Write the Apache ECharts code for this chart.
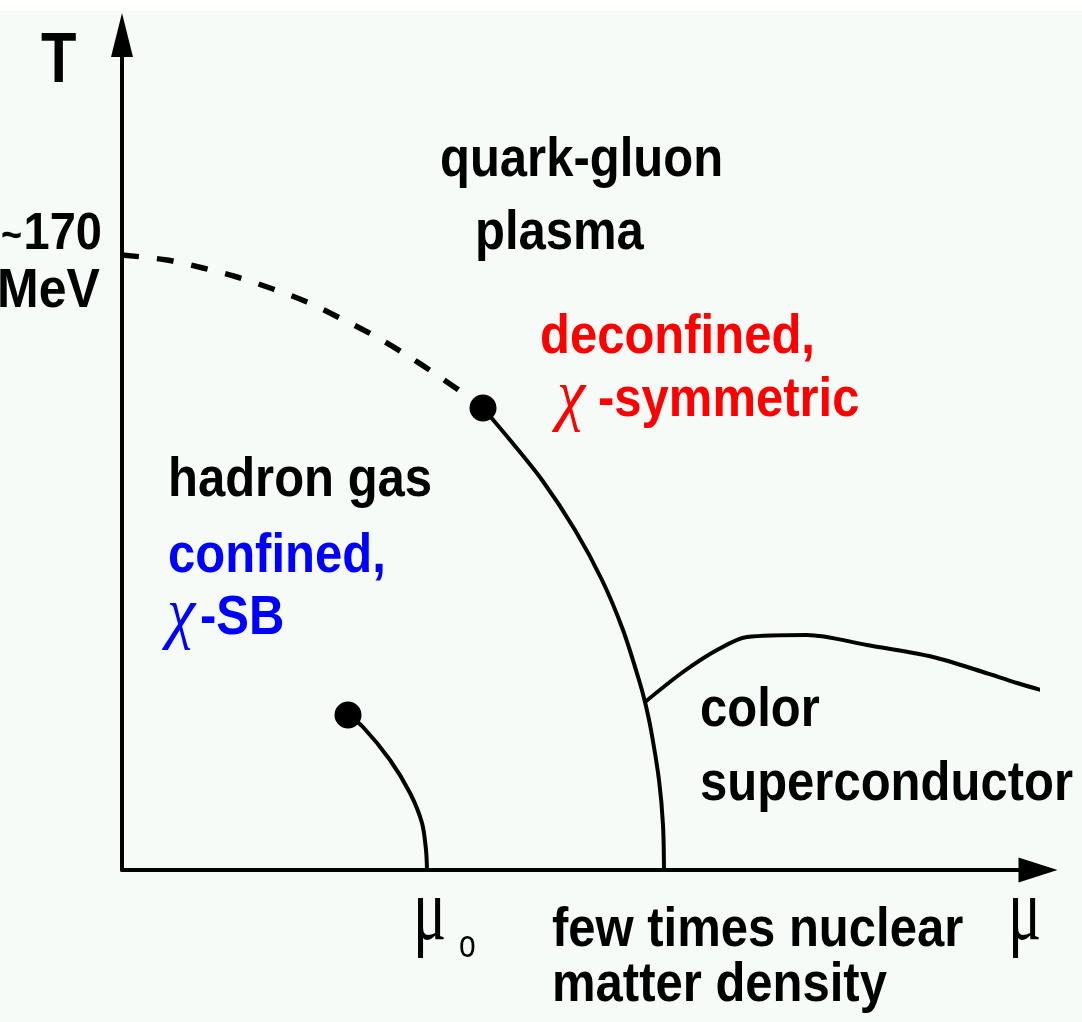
<!DOCTYPE html>
<html>
<head>
<meta charset="utf-8">
<script src="https://cdn.jsdelivr.net/npm/echarts@6/dist/echarts.min.js"></script>
<style>
  html, body { margin: 0; padding: 0; background: #f6fbf8; }
  #chart { width: 1082px; height: 1022px; }
</style>
</head>
<body>
<div id="chart"></div>
<script>
// schematic units (origin at the axes corner)
var crossover = [[0,615],[45,610],[81,602],[115,593],[151,581],[185,568],[218,552],[251,535],[283,516],[315,495],[345,474],[361,462]];
var hadronQgp = [[361,462],[388,430],[420,390],[453,340],[480,290],[501,240],[517,190],[523,168],[529,140],[537,90],[541,45],[542,0]];
var cscBoundary = [[523,168],[561,198],[595,220],[625,233],[685,235],[745,225],[811,213],[861,198],[895,187],[926,178]];
var liquidGas = [[226,155],[241,143],[268,110],[288,77],[300,47],[304,20],[305,0]];
var criticalPoints = [[361,462],[226,155]];
var xMax = 916, yMax = 835;

var SANS = '"Liberation Sans", Arial, Helvetica, sans-serif';
var SERIF = '"Liberation Serif", "Times New Roman", serif';

function label(x, y, text, o) {
  o = o || {};
  return {
    type: 'text', x: x, y: y, scaleY: o.sy || 1.15, z: 10,
    style: {
      text: text,
      fill: o.color || '#000',
      fontFamily: o.family || SANS,
      fontWeight: o.weight || 'bold',
      fontStyle: o.style || 'normal',
      fontSize: o.size || 49,
      align: o.align || 'left', textAlign: o.align || 'left',
      verticalAlign: 'middle', textVerticalAlign: 'middle'
    }
  };
}
var chi = { family: SERIF, weight: 'normal', style: 'italic', size: 64, sy: 1.1 };
var mu = { family: SERIF, weight: 'normal', size: 62, sy: 1.45 };

var chart = echarts.init(document.getElementById('chart'));
chart.setOption({
  backgroundColor: '#f6fbf8',
  animation: false,
  grid: { left: 122, right: 44, top: 35, bottom: 152 },
  xAxis: {
    type: 'value', min: 0, max: xMax,
    axisLine: { show: true, lineStyle: { color: '#000', width: 4 }, symbol: ['none', 'triangle'], symbolSize: [25, 39] },
    axisTick: { show: false }, axisLabel: { show: false }, splitLine: { show: false }
  },
  yAxis: {
    type: 'value', min: 0, max: yMax,
    axisLine: { show: true, lineStyle: { color: '#000', width: 4 }, symbol: ['none', 'triangle'], symbolSize: [22, 44] },
    axisTick: { show: false }, axisLabel: { show: false }, splitLine: { show: false }
  },
  series: [
    { type: 'line', data: crossover, smooth: 0.3, showSymbol: false, clip: false,
      lineStyle: { color: '#000', width: 5.5, type: [17, 18], cap: 'butt' } },
    { type: 'line', data: hadronQgp, smooth: 0.3, showSymbol: false, clip: false,
      lineStyle: { color: '#000', width: 4 } },
    { type: 'line', data: cscBoundary, smooth: 0.3, showSymbol: false, clip: false,
      lineStyle: { color: '#000', width: 4 } },
    { type: 'line', data: liquidGas, smooth: 0.3, showSymbol: false, clip: false,
      lineStyle: { color: '#000', width: 4 } },
    { type: 'scatter', data: criticalPoints, symbolSize: 27, z: 5,
      itemStyle: { color: '#000', opacity: 1 } }
  ],
  graphic: [
    { type: 'rect', shape: { x: 0, y: 0, width: 1082, height: 10 }, style: { fill: '#ffffff' }, z: -1 },
    label(41, 63, 'T', { size: 58, sy: 1.2 }),
    label(1, 237, '~', { size: 36 }),
    label(102, 235, '170', { size: 47, sy: 1.1, align: 'right' }),
    label(-3, 292, 'MeV', { size: 50, sy: 1.1 }),
    label(440, 160.5, 'quark-gluon'),
    label(475, 233.5, 'plasma'),
    label(540, 337.5, 'deconfined,', { color: '#ff0000' }),
    label(557, 398, 'χ', Object.assign({ color: '#ff0000' }, chi)),
    label(598, 400.5, '-symmetric', { color: '#ff0000' }),
    label(168, 480.5, 'hadron gas'),
    label(168, 556.5, 'confined,', { color: '#0000ff' }),
    label(167, 616, 'χ', Object.assign({ color: '#0000ff' }, chi)),
    label(200, 618.5, '-SB', { color: '#0000ff' }),
    label(700, 710.5, 'color'),
    label(700, 784.5, 'superconductor'),
    label(413, 915, 'μ', mu),
    label(459, 946, 'o', { weight: 'normal', size: 30, sy: 1.3 }),
    label(552, 930.5, 'few times nuclear'),
    label(552, 985.5, 'matter density'),
    label(1008, 915, 'μ', mu)
  ]
});
</script>
</body>
</html>
